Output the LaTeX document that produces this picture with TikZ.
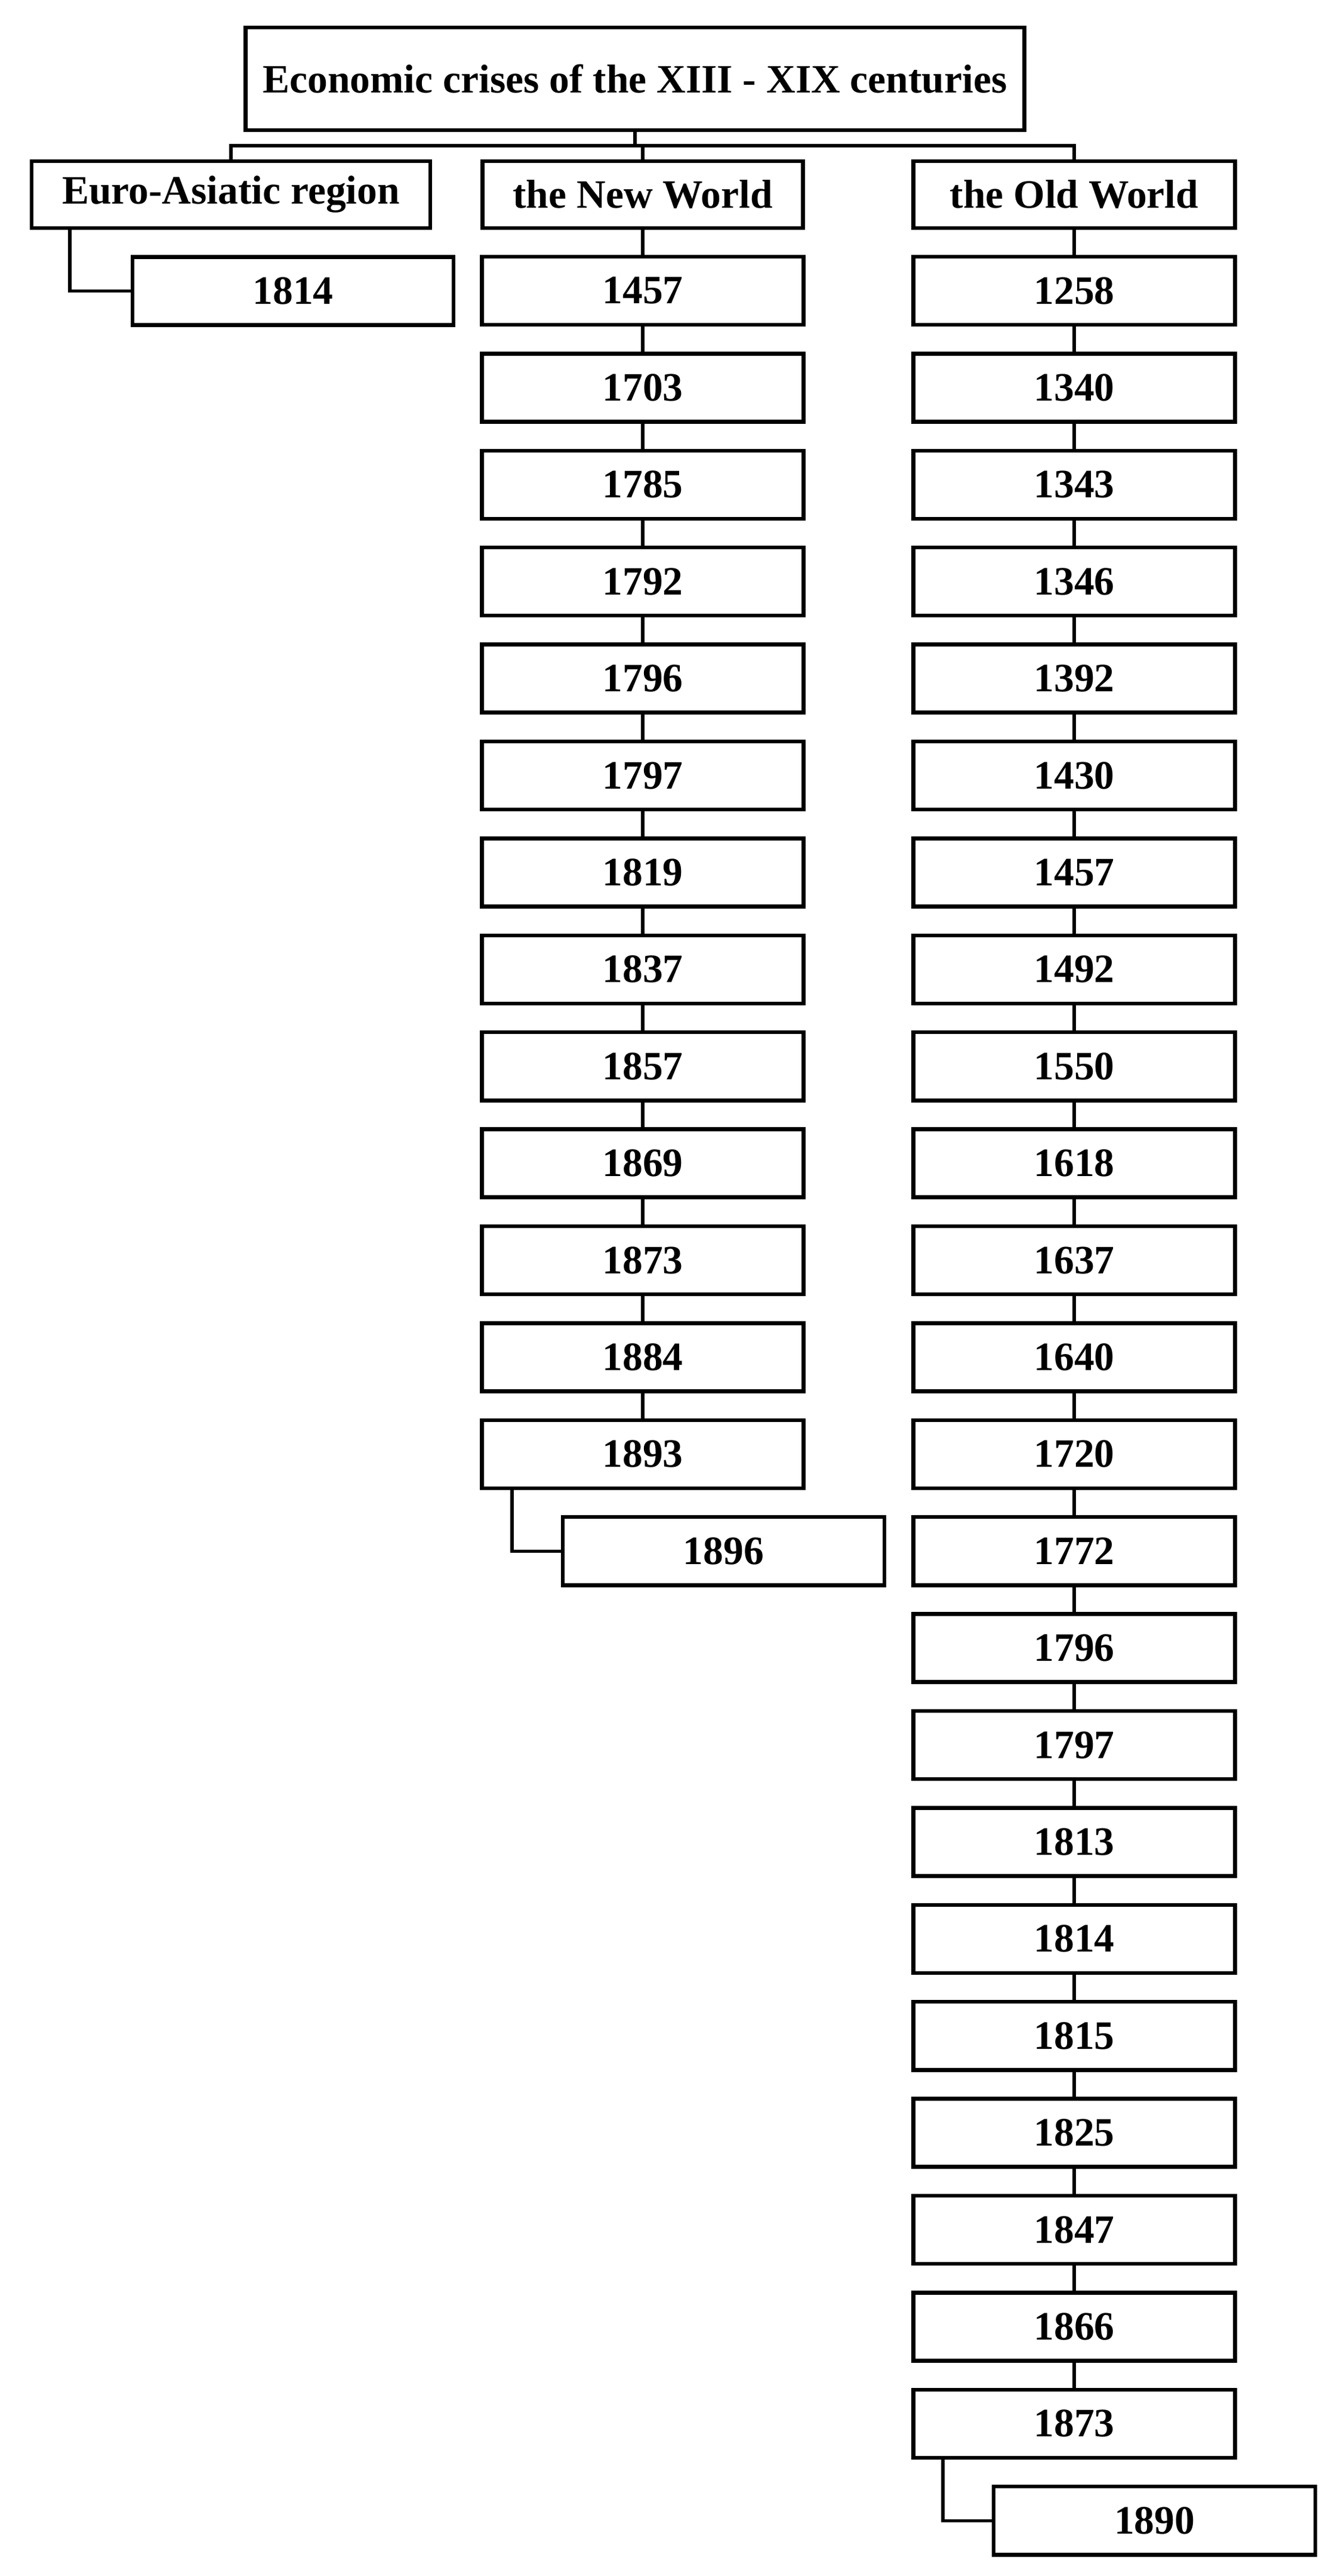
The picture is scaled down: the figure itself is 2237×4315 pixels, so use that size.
\documentclass[tikz,border=0pt]{standalone}
\usepackage{fontspec}
\setmainfont{Liberation Serif}
\begin{document}
\begin{tikzpicture}[x=0.01cm,y=-0.01cm,
  box/.style={draw,line width=1.85pt,minimum width=5.39cm,minimum height=1.14cm,inner sep=0pt,
    font=\fontsize{19.2}{22}\selectfont\bfseries},
  conn/.style={line width=1.55pt}]
\useasboundingbox[fill=white] (0,0) rectangle (2237,4315);
% title
\node[box,minimum width=13.04cm,minimum height=1.72cm] (top) at (1064,132) {Economic crises of the XIII - XIX centuries};
% headers
\node[box,minimum width=6.68cm,minimum height=1.12cm] (euro) at (387,326) {Euro-Asiatic region};
\node[box,minimum width=5.37cm,minimum height=1.12cm] (nw) at (1077,326) {the New World};
\node[box,minimum width=5.39cm,minimum height=1.12cm] (ow) at (1800,326) {the Old World};
% bus
\coordinate (bus) at (1064,244);
\draw[conn] (top.south) -- (top.south |- bus);
\draw[conn,line join=miter] (euro.north) -- (euro.north |- bus) -- (ow.north |- bus) -- (ow.north);
\draw[conn] (nw.north |- bus) -- (nw.north);
% Euro-Asiatic
\node[box,minimum width=5.38cm] (e1814) at (491,487.5) {1814};
\draw[conn,line join=miter] ([xshift=0.675cm]euro.south west) |- (e1814.west);
% New World
\foreach \yr [count=\i] in {1457,1703,1785,1792,1796,1797,1819,1837,1857,1869,1873,1884,1893}{
  \node[box] (nw\i) at (1077,{487+(\i-1)*162.4}) {\yr};
}
\draw[conn] (nw.south) -- (nw1.north);
\foreach \i in {2,...,13}{
  \pgfmathtruncatemacro\prev{\i-1}
  \draw[conn] (nw\prev.south) -- (nw\i.north);
}
\node[box] (nw14) at (1212.5,{487+13*162.4}) {1896};
\draw[conn,line join=miter] ([xshift=0.54cm]nw13.south west) |- (nw14.west);
% Old World
\foreach \yr [count=\i] in {1258,1340,1343,1346,1392,1430,1457,1492,1550,1618,1637,1640,1720,1772,1796,1797,1813,1814,1815,1825,1847,1866,1873}{
  \node[box] (ow\i) at (1800,{487+(\i-1)*162.4}) {\yr};
}
\draw[conn] (ow.south) -- (ow1.north);
\foreach \i in {2,...,23}{
  \pgfmathtruncatemacro\prev{\i-1}
  \draw[conn] (ow\prev.south) -- (ow\i.north);
}
\node[box] (ow24) at (1934.5,{487+23*162.4}) {1890};
\draw[conn,line join=miter] ([xshift=0.53cm]ow23.south west) |- (ow24.west);
\end{tikzpicture}
\end{document}
